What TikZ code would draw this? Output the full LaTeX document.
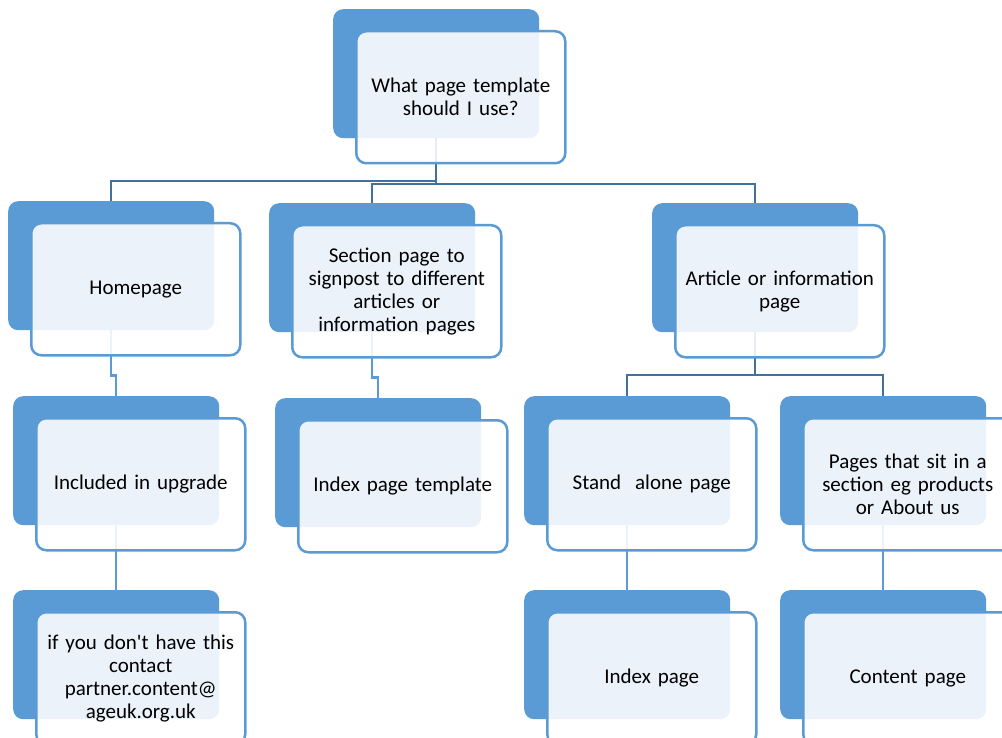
\documentclass[tikz,border=0pt]{standalone}
\usepackage{fontspec}
\newfontfamily\carl{Carlito}
\definecolor{sablue}{HTML}{5B9BD5}
\definecolor{sadark}{HTML}{41719C}
\tikzset{
  backbox/.style={draw=none, fill=sablue, rounded corners=10pt, minimum width=206pt, minimum height=129pt, anchor=north west, inner sep=0pt},
  frontbox/.style={draw=sablue, line width=2.5pt, fill=white, fill opacity=0.88, text opacity=1, rounded corners=10pt, minimum width=209pt, minimum height=132pt, anchor=north west, inner sep=0pt, text width=196pt, align=center, font=\carl\fontsize{21pt}{23pt}\selectfont},
  darkline/.style={draw=sadark, line width=2.5pt},
  lightline/.style={draw=sablue, line width=2.5pt},
}
\newcommand{\backat}[3]{\node[backbox] (#1-b) at (#2,#3) {};}
\newcommand{\frontat}[4]{\node[frontbox] (#1) at (#2+22,#3+21) {#4};}
\begin{document}
\begin{tikzpicture}[x=1pt,y=-1pt]
\clip (0,0) rectangle (1002,738);
\fill[white] (0,0) rectangle (1002,738);
% back boxes
\backat{top}{333}{9}
\backat{home}{8}{201}
\backat{sec}{269}{203}
\backat{art}{652}{203}
\backat{incl}{13}{396}
\backat{tmpl}{275}{398}
\backat{stand}{524}{396}
\backat{pages}{780}{396}
\backat{ifyou}{13}{590}
\backat{index}{524}{590}
\backat{content}{780}{590}
% connectors
\coordinate (j1) at (0,181);
\coordinate (j1b) at (0,184);
\coordinate (j2) at (0,375);
\draw[darkline] (top-b.south) -- (top-b.south |- j1b);
\draw[darkline] (home-b.north) -- (home-b.north |- j1) -- (top-b.south |- j1);
\draw[darkline] (sec-b.north) -- (sec-b.north |- j1b) -- (art-b.north |- j1b) -- (art-b.north);
\draw[lightline] (home-b.south) -- ++(0,45) -| (incl-b.north);
\draw[lightline] (sec-b.south) -- ++(0,45) -| (tmpl-b.north);
\draw[darkline] (art-b.south) -- (art-b.south |- j2);
\draw[darkline] (stand-b.north) -- (stand-b.north |- j2) -- (pages-b.north |- j2) -- (pages-b.north);
\draw[lightline] (incl-b.south) -- (ifyou-b.north);
\draw[lightline] (stand-b.south) -- (index-b.north);
\draw[lightline] (pages-b.south) -- (content-b.north);
% front boxes
\frontat{top}{333}{9}{What page template\\ should I use?}
\frontat{home}{8}{201}{Homepage}
\frontat{sec}{269}{203}{Section page to\\ signpost to different\\ articles or\\ information pages}
\frontat{art}{652}{203}{Article or information\\ page}
\frontat{incl}{13}{396}{Included in upgrade}
\frontat{tmpl}{275}{398}{Index page template}
\frontat{stand}{524}{396}{Stand\ \ alone page}
\frontat{pages}{780}{396}{Pages that sit in a\\ section eg products\\ or About us}
\frontat{ifyou}{13}{590}{if you don't have this\\ contact\\ partner.content@\\ ageuk.org.uk}
\frontat{index}{524}{590}{Index page}
\frontat{content}{780}{590}{Content page}
\end{tikzpicture}
\end{document}
